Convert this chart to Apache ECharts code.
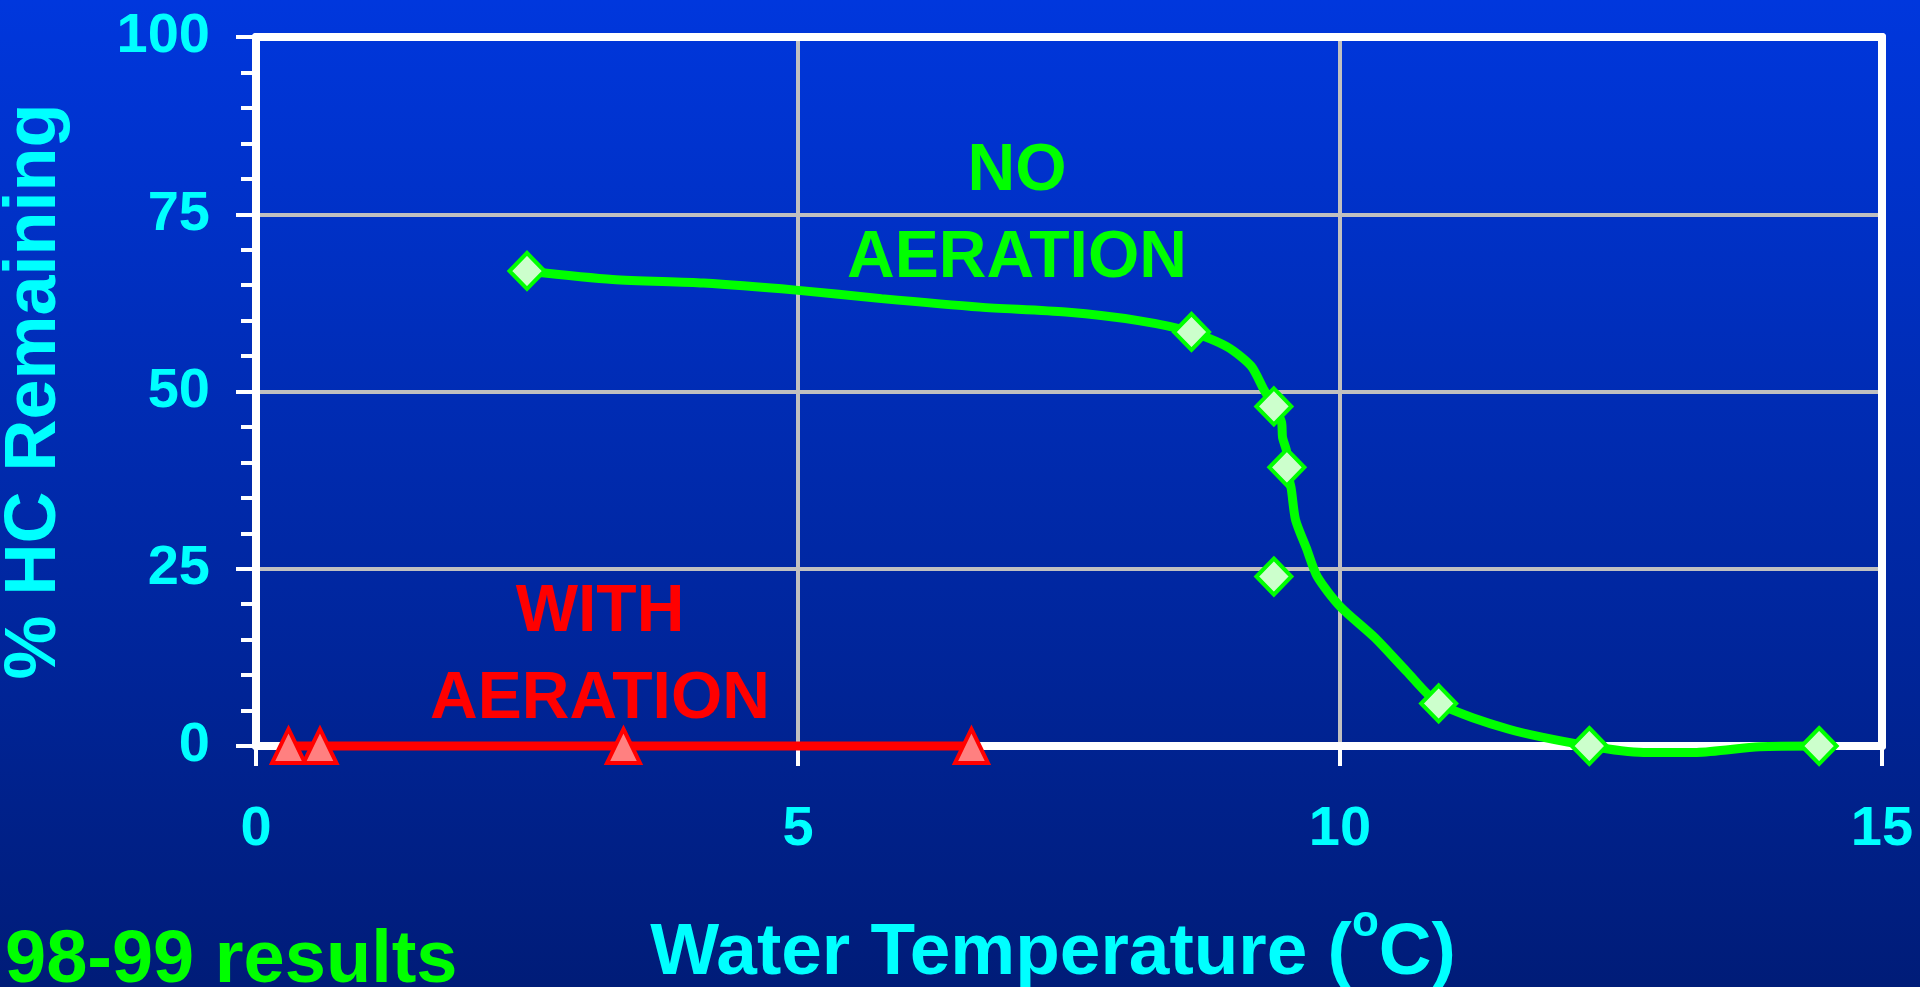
<!DOCTYPE html>
<html><head><meta charset="utf-8">
<script src="https://cdn.jsdelivr.net/npm/echarts@6/dist/echarts.min.js"></script>
<style>html,body{margin:0;padding:0;width:1920px;height:987px;overflow:hidden;background:#002a9e}#chart{width:1920px;height:987px}</style>
</head><body><div id="chart"></div>
<script>
// ---- data ----
const xTicks = [0, 5, 10, 15];
const yTicks = [0, 25, 50, 75, 100];
// NO AERATION: measured points (diamonds)
const noAerationTemp = [2.50, 8.63, 9.39, 9.51, 9.39, 10.91, 12.30, 14.42];
const noAerationHC   = [67.0, 58.4, 47.9, 39.3, 23.9, 6.0, 0.0, 0.0];
// NO AERATION: drawn curve
const curveTemp = [2.50, 3.29, 4.13, 4.98, 5.77, 6.68, 7.47, 8.14, 8.63, 8.96, 9.18, 9.30, 9.39, 9.46, 9.47, 9.51, 9.51, 9.55, 9.59, 9.69, 9.79, 10.00, 10.32, 10.61, 10.91, 11.55, 12.30, 12.80, 13.29, 13.87, 14.42];
const curveHC   = [67.0, 65.8, 65.3, 64.3, 63.1, 61.9, 61.2, 60.0, 58.4, 56.3, 53.6, 50.2, 47.9, 45.7, 43.5, 41.3, 39.3, 36.3, 31.9, 27.9, 23.9, 19.7, 15.3, 10.6, 6.0, 2.4, 0.0, -0.9, -0.9, -0.1, 0.0];
// WITH AERATION
const withAerationTemp = [0.30, 0.59, 3.39, 6.60];
const withAerationHC   = [0, 0, 0, 0];
const xAxisTitle = 'Water Temperature (';
const yAxisTitle = '% HC Remaining';
const noLabel = 'NO\nAERATION';
const withLabel = 'WITH\nAERATION';
const noteLabel = '98-99 results';

// ---- chart ----
const FONT = '"Liberation Sans", Arial, Helvetica, sans-serif';
const zip = (a, b) => a.map((v, i) => [v, b[i]]);
const chart = echarts.init(document.getElementById('chart'), null, {renderer: 'canvas'});
const frameAxis = {
  type: 'value', axisLine: {show: true, onZero: false, lineStyle: {color: '#ffffff', width: 8}},
  axisTick: {show: false}, axisLabel: {show: false}, splitLine: {show: false}
};
chart.setOption({
  animation: false,
  backgroundColor: new echarts.graphic.LinearGradient(0, 0, 0, 1, [
    {offset: 0, color: '#0037dd'},
    {offset: 1, color: '#001c78'}
  ]),
  grid: {left: 256, right: 38, top: 37, bottom: 241, show: false,
         outerBoundsMode: 'none', containLabel: false},
  xAxis: [{
    type: 'value', min: xTicks[0], max: xTicks[xTicks.length - 1], interval: 5,
    name: '{m|' + xAxisTitle + '}{s|o}{m|C)}',
    nameLocation: 'middle', nameGap: 156,
    nameTextStyle: {
      padding: [0, 32, 0, 0],
      rich: {
        m: {fontSize: 73, fontWeight: 'bold', fontFamily: FONT, color: '#00ffff', lineHeight: 104},
        s: {fontSize: 44, fontWeight: 'bold', fontFamily: FONT, color: '#00ffff', lineHeight: 4, verticalAlign: 'top'}
      }
    },
    axisLine: {show: true, onZero: false, lineStyle: {color: '#ffffff', width: 8}},
    axisTick: {show: true, length: 20, lineStyle: {color: '#ffffff', width: 4}},
    axisLabel: {margin: 56, fontSize: 56, fontWeight: 'bold', fontFamily: FONT, color: '#00ffff'},
    splitLine: {show: true, lineStyle: {color: '#c0c0c0', width: 4}}
  }, Object.assign({position: 'top', min: xTicks[0], max: xTicks[xTicks.length - 1]}, frameAxis)],
  yAxis: [{
    type: 'value', min: yTicks[0], max: yTicks[yTicks.length - 1], interval: 25,
    name: yAxisTitle, nameLocation: 'middle', nameGap: 185,
    nameTextStyle: {fontSize: 72, fontWeight: 'bold', fontFamily: FONT, color: '#00ffff'},
    axisLine: {show: true, onZero: false, lineStyle: {color: '#ffffff', width: 8}},
    axisTick: {show: true, length: 20, lineStyle: {color: '#ffffff', width: 4}},
    minorTick: {show: true, splitNumber: 5, length: 15, lineStyle: {color: '#ffffff', width: 4}},
    axisLabel: {margin: 46, fontSize: 56, fontWeight: 'bold', fontFamily: FONT, color: '#00ffff'},
    splitLine: {show: true, lineStyle: {color: '#c0c0c0', width: 4}}
  }, Object.assign({position: 'right', min: yTicks[0], max: yTicks[yTicks.length - 1]}, frameAxis)],
  series: [
    {
      name: 'NO AERATION curve', type: 'line', data: zip(curveTemp, curveHC),
      smooth: 0.25, symbol: 'none', clip: false, z: 3,
      lineStyle: {color: '#00ff00', width: 9}
    },
    {
      name: 'NO AERATION', type: 'scatter', data: zip(noAerationTemp, noAerationHC),
      symbol: 'diamond', symbolSize: [35, 36], clip: false, z: 4,
      itemStyle: {color: '#ccffcc', borderColor: '#00ff00', borderWidth: 4, opacity: 1}
    },
    {
      name: 'WITH AERATION', type: 'line', data: zip(withAerationTemp, withAerationHC),
      symbol: 'triangle', symbolSize: [33, 34], showAllSymbol: true, clip: false, z: 5,
      lineStyle: {color: '#ff0000', width: 9},
      itemStyle: {color: '#ff8080', borderColor: '#ff0000', borderWidth: 4, opacity: 1}
    }
  ],
  graphic: [
    {type: 'text', x: 1017, y: 215, z: 10,
     style: {text: noLabel, fill: '#00ff00', fontSize: 66, fontWeight: 'bold', fontFamily: FONT,
             align: 'center', verticalAlign: 'middle', lineHeight: 87}},
    {type: 'text', x: 600, y: 656, z: 10,
     style: {text: withLabel, fill: '#ff0000', fontSize: 66, fontWeight: 'bold', fontFamily: FONT,
             align: 'center', verticalAlign: 'middle', lineHeight: 87}},
    {type: 'text', x: 5, y: 962, z: 10,
     style: {text: noteLabel, fill: '#00ff00', fontSize: 74, fontWeight: 'bold', fontFamily: FONT,
             align: 'left', verticalAlign: 'middle'}}
  ]
});
</script>
</body></html>
